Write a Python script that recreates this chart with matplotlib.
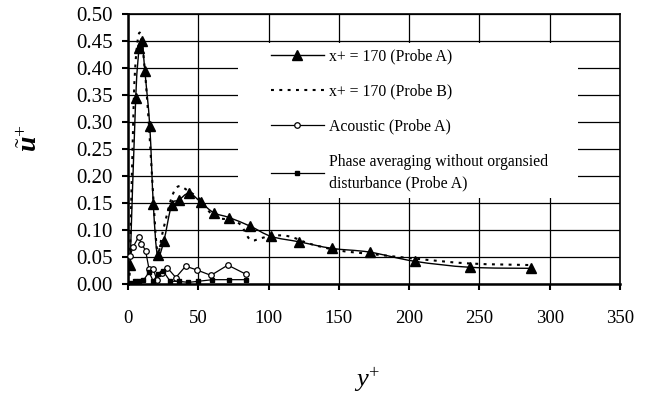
import numpy as np
import matplotlib
matplotlib.use("Agg")
import matplotlib.pyplot as plt
from matplotlib.path import Path
from matplotlib.patches import PathPatch, Rectangle
from matplotlib.lines import Line2D

plt.rcParams['font.family'] = ['Liberation Serif', 'DejaVu Serif']
plt.rcParams['mathtext.fontset'] = 'custom'
plt.rcParams['mathtext.rm'] = 'Liberation Serif'
plt.rcParams['mathtext.it'] = 'Liberation Serif:italic'
plt.rcParams['mathtext.bf'] = 'Liberation Serif:bold:italic'

# ---- data ----
probe_a_x = [1.5, 5.5, 8, 10, 12, 15.5, 18, 21, 25.5, 31, 36, 43.5, 52, 61, 72, 87, 102, 122, 145, 172, 204, 243, 287]
probe_a_y = [0.035, 0.345, 0.437, 0.450, 0.394, 0.292, 0.148, 0.053, 0.080, 0.146, 0.155, 0.168, 0.151,
             0.132, 0.123, 0.107, 0.088, 0.078, 0.066, 0.059, 0.042, 0.031, 0.029]

probe_b_x = [1, 4, 6, 8.5, 11.5, 15, 18, 21, 25, 31, 36, 43, 52, 61, 72, 80, 87, 95, 102, 115, 130, 150, 175, 204, 243, 288]
probe_b_y = [0.0, 0.33, 0.43, 0.465, 0.41, 0.29, 0.16, 0.06, 0.10, 0.16, 0.181, 0.172, 0.155, 0.125,
             0.119, 0.110, 0.082, 0.085, 0.090, 0.088, 0.074, 0.062, 0.055, 0.047, 0.038, 0.035]

acoustic_x = [1.5, 3.5, 7.5, 9.5, 12.5, 15, 18, 20.5, 24, 28, 34, 41, 49, 59, 71, 84]
acoustic_y = [0.052, 0.068, 0.087, 0.075, 0.062, 0.027, 0.027, 0.008, 0.021, 0.030, 0.012, 0.033,
              0.026, 0.016, 0.035, 0.018]

phase_x = [1.5, 5, 8, 11, 15, 18, 21, 25, 30, 36, 43, 50, 60, 72, 84]
phase_y = [0.002, 0.006, 0.006, 0.007, 0.022, 0.005, 0.018, 0.024, 0.005, 0.005, 0.003, 0.005,
           0.008, 0.008, 0.008]

labels = ["x+ = 170 (Probe A)", "x+ = 170 (Probe B)", "Acoustic (Probe A)",
          "Phase averaging without organsied\ndisturbance (Probe A)"]
x_ticks = [0, 50, 100, 150, 200, 250, 300, 350]
y_ticks = [0.00, 0.05, 0.10, 0.15, 0.20, 0.25, 0.30, 0.35, 0.40, 0.45, 0.50]


def smooth_path(x, y):
    P = np.column_stack([x, y]).astype(float)
    n = len(P)
    verts = [P[0]]
    codes = [Path.MOVETO]
    for i in range(n - 1):
        p0 = P[i - 1] if i > 0 else P[i]
        p1 = P[i]
        p2 = P[i + 1]
        p3 = P[i + 2] if i + 2 < n else P[i + 1]
        verts += [p1 + (p2 - p0) / 6.0, p2 - (p3 - p1) / 6.0, p2]
        codes += [Path.CURVE4] * 3
    return Path(verts, codes)


fig = plt.figure(figsize=(6.45, 3.99), dpi=100)
ax = fig.add_axes([128 / 645, 1 - 284 / 399, 492 / 645, 270 / 399])
ax.set_xlim(0, 350)
ax.set_ylim(0, 0.5)
ax.set_axisbelow(True)
ax.grid(True, color='black', lw=0.9)

dots = (0, (1.4, 2.6))

# Probe A (smoothed line + triangles)
ax.add_patch(PathPatch(smooth_path(probe_a_x, probe_a_y), fill=False, edgecolor='black', lw=1.0, zorder=3))
ax.plot(probe_a_x, probe_a_y, linestyle='none', marker='^', ms=7, color='black', zorder=4)

# Probe B (smoothed dotted line)
ax.add_patch(PathPatch(smooth_path(probe_b_x, probe_b_y), fill=False, edgecolor='black', lw=1.5,
                       linestyle=dots, zorder=3))

# Acoustic
ax.plot(acoustic_x, acoustic_y, color='black', lw=0.9, marker='o', ms=4, mfc='white', mec='black',
        mew=0.9, zorder=3)

# Phase averaging
ax.plot(phase_x, phase_y, color='black', lw=0.9, marker='s', ms=2.5, zorder=3)

# white legend background
ax.add_patch(Rectangle((0.224, 0.319), 0.691, 0.575, transform=ax.transAxes, facecolor='white',
                       edgecolor='none', zorder=1))

handles = [
    Line2D([], [], color='black', lw=1.0, marker='^', ms=7),
    Line2D([], [], color='black', lw=1.5, linestyle=dots),
    Line2D([], [], color='black', lw=0.9, marker='o', ms=4, mfc='white', mew=0.9),
    Line2D([], [], color='black', lw=0.9, marker='s', ms=2.5),
]
leg = ax.legend(handles, labels, loc='upper left', bbox_to_anchor=(0.29, 0.872), frameon=False,
                fontsize=11.3, handlelength=3.4, handletextpad=0.3, labelspacing=1.22, numpoints=1,
                borderpad=0, borderaxespad=0)
for t in leg.get_texts():
    t.set_linespacing(1.45)
leg.set_zorder(5)

ax.set_xticks(x_ticks)
ax.set_yticks(y_ticks)
ax.set_xticklabels([str(v) for v in x_ticks], fontsize=13.5)
ax.set_yticklabels([f"{v:.2f}" for v in y_ticks], fontsize=15)
ax.tick_params(axis='x', direction='out', length=4, width=1.5, pad=15)
ax.tick_params(axis='y', direction='out', length=4, width=1.5, pad=7)
for s in ax.spines.values():
    s.set_linewidth(1.2)
    s.set_color('black')
ax.spines['left'].set_linewidth(1.8)
ax.spines['bottom'].set_linewidth(1.8)

ax.set_xlabel(r'$y^{+}$', fontsize=19)
ax.xaxis.set_label_coords((367 - 128) / 492, (284 - 366) / 270)
ax.set_ylabel(r'$\tilde{\mathbf{u}}^{+}$', fontsize=20, rotation=90)
ax.yaxis.set_label_coords((43 - 128) / 492, (284 - 138) / 270)

fig.savefig('out.png', dpi=100)
